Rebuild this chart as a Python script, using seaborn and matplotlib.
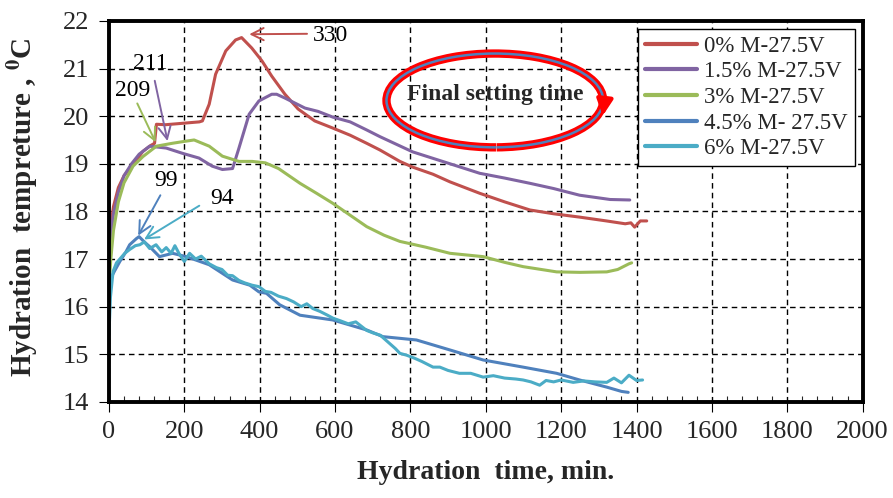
import numpy as np
import pandas as pd
import matplotlib
matplotlib.use("Agg")
import matplotlib.pyplot as plt
from matplotlib.patches import Arc
import seaborn as sns

# ---- data ----
series_names = ["0% M-27.5V", "1.5% M-27.5V", "3% M-27.5V", "4.5% M- 27.5V", "6% M-27.5V"]
series_colors = ["#C0504D", "#8064A2", "#9BBB59", "#4F81BD", "#4BACC6"]

red_t = [0, 5, 12, 25, 40, 55, 75, 90, 110, 121, 126, 150, 180, 210, 240, 248, 266, 283, 310, 336,
         352, 379, 406, 432, 467, 502, 546, 594, 640, 684, 719, 772, 806, 860, 905, 984, 1050, 1117,
         1180, 1249, 1320, 1370, 1385, 1395, 1410, 1427]
red_T = [17.2, 17.7, 18.1, 18.5, 18.75, 18.9, 19.1, 19.26, 19.38, 19.43, 19.83, 19.82, 19.84, 19.86,
         19.88, 19.9, 20.25, 20.88, 21.37, 21.6, 21.65, 21.43, 21.16, 20.84, 20.46, 20.15, 19.9, 19.75,
         19.6, 19.43, 19.29, 19.05, 18.93, 18.78, 18.62, 18.38, 18.2, 18.03, 17.95, 17.88, 17.8, 17.74,
         17.76, 17.67, 17.8, 17.8]

purple_t = [0, 5, 12, 25, 40, 60, 80, 108, 130, 152, 195, 239, 274, 301, 328, 345, 372, 398, 432, 445,
            467, 520, 555, 594, 640, 684, 719, 806, 905, 984, 1050, 1117, 1180, 1249, 1330, 1382]
purple_T = [17.0, 17.5, 17.95, 18.4, 18.75, 19.0, 19.2, 19.37, 19.35, 19.33, 19.22, 19.12, 18.95, 18.88,
            18.9, 19.33, 20.04, 20.32, 20.46, 20.46, 20.38, 20.17, 20.1, 19.98, 19.88, 19.71, 19.57,
            19.25, 19.0, 18.8, 18.7, 18.59, 18.48, 18.34, 18.25, 18.24]

green_t = [0, 5, 12, 25, 40, 64, 90, 126, 168, 200, 226, 266, 301, 345, 380, 415, 450, 507, 551, 594,
           640, 684, 730, 772, 840, 905, 993, 1050, 1099, 1188, 1250, 1321, 1350, 1365, 1380, 1387]
green_T = [16.4, 17.0, 17.6, 18.2, 18.6, 18.95, 19.15, 19.37, 19.43, 19.47, 19.5, 19.37, 19.16, 19.05,
           19.05, 19.02, 18.9, 18.59, 18.38, 18.17, 17.92, 17.68, 17.5, 17.37, 17.25, 17.12, 17.05,
           16.93, 16.84, 16.73, 16.72, 16.73, 16.78, 16.84, 16.9, 16.92]

blue_t = [0, 5, 15, 29, 45, 55, 73, 80, 95, 108, 134, 169, 205, 266, 328, 374, 398, 418, 453, 507, 594,
          684, 727, 816, 905, 993, 1099, 1188, 1249, 1321, 1360, 1378]
blue_T = [16.4, 16.6, 16.75, 16.95, 17.15, 17.3, 17.43, 17.47, 17.35, 17.26, 17.05, 17.12, 17.05, 16.88,
          16.56, 16.45, 16.31, 16.28, 16.04, 15.82, 15.72, 15.51, 15.37, 15.3, 15.09, 14.88, 14.73, 14.6,
          14.46, 14.31, 14.22, 14.2]

cyan_t = [0, 4, 11, 20, 29, 42, 55, 70, 82, 94, 108, 125, 140, 152, 165, 175, 187, 200, 214, 230, 245,
          266, 285, 300, 315, 328, 345, 360, 380, 398, 415, 430, 450, 471, 490, 510, 525, 541, 560, 580,
          594, 615, 635, 655, 684, 700, 720, 740, 760, 772, 790, 810, 830, 860, 878, 900, 930, 960, 993,
          1020, 1050, 1080, 1099, 1120, 1143, 1160, 1180, 1200, 1232, 1260, 1290, 1321, 1340, 1360,
          1380, 1400, 1416]
cyan_T = [15.4, 16.2, 16.74, 16.92, 17.0, 17.12, 17.2, 17.28, 17.3, 17.36, 17.22, 17.3, 17.15, 17.24,
          17.12, 17.28, 17.1, 16.95, 17.12, 17.0, 17.06, 16.9, 16.82, 16.78, 16.66, 16.65, 16.55, 16.5,
          16.45, 16.42, 16.32, 16.3, 16.22, 16.17, 16.1, 16.0, 16.06, 15.96, 15.9, 15.82, 15.76, 15.7,
          15.64, 15.68, 15.5, 15.45, 15.4, 15.26, 15.12, 15.02, 14.98, 14.92, 14.85, 14.73, 14.73, 14.66,
          14.6, 14.6, 14.52, 14.55, 14.5, 14.48, 14.46, 14.42, 14.35, 14.45, 14.42, 14.46, 14.41, 14.44,
          14.42, 14.41, 14.5, 14.4, 14.56, 14.45, 14.46]

# peak annotations: label, text position, arrow tail, arrow head
peak_labels = ["330", "211", "209", "99", "94"]
peak_text = [(540, 21.70), (109, 21.10), (64, 20.53), (151, 18.64), (300, 18.28)]
peak_tail = [(533, 21.73), (120, 20.80), (72, 20.32), (140, 18.39), (246, 18.15)]
peak_head = [(365, 21.72), (157, 19.42), (127, 19.40), (74, 17.44), (87, 17.38)]
peak_colors = ["#C0504D", "#8064A2", "#9BBB59", "#4F81BD", "#4BACC6"]

# ---- long-form table for seaborn ----
frames = []
for name, t, T in zip(series_names,
                      [red_t, purple_t, green_t, blue_t, cyan_t],
                      [red_T, purple_T, green_T, blue_T, cyan_T]):
    frames.append(pd.DataFrame({"time": t, "temp": T, "mix": name}))
df = pd.concat(frames, ignore_index=True)

sns.set_style("ticks")
plt.rcParams["font.family"] = ["Liberation Serif", "DejaVu Serif"]
plt.rcParams["mathtext.fontset"] = "stix"

fig = plt.figure(figsize=(8.93, 4.98), dpi=100)
ax = fig.add_axes([0.122, 0.193, 0.844, 0.765])

sns.lineplot(data=df, x="time", y="temp", hue="mix", palette=series_colors,
             estimator=None, sort=False, linewidth=2.2, ax=ax, zorder=3)

ax.set_xlim(0, 2000)
ax.set_ylim(14, 22)
ax.set_xticks(np.arange(0, 2001, 200))
ax.set_xticks(np.arange(0, 2001, 40), minor=True)
ax.set_yticks(np.arange(14, 23, 1))

for sp in ax.spines.values():
    sp.set_visible(True)
    sp.set_color("black")
    sp.set_linewidth(2.8)
    sp.set_zorder(4)

ax.tick_params(axis="both", which="major", direction="out", length=7, width=0.8,
               labelsize=19, pad=7, color="black", bottom=True, left=True)
ax.tick_params(axis="x", which="minor", direction="in", length=4, width=0.8, bottom=True)

# dashed grid on the major ticks
ax.set_axisbelow(True)
ax.grid(True, which="major", axis="both", color="#000000", linestyle="--",
        dashes=(4, 3), linewidth=1.0, alpha=1.0)

ax.set_xlabel("Hydration  time, min.", fontsize=20, fontweight="bold", labelpad=12)
ax.set_ylabel(r"Hydration  tempreture , $^{\mathbf{0}}$C", fontsize=21, fontweight="bold")
ax.yaxis.set_label_coords(-0.092, 0.51)

# legend
handles, labels = ax.get_legend_handles_labels()
leg = ax.legend(handles, labels, loc="upper right", fontsize=16.5, frameon=True, fancybox=False,
                edgecolor="black", framealpha=1, handlelength=2.3, handletextpad=0.3,
                labelspacing=0.2, borderpad=0.3, borderaxespad=0.35)
leg.get_frame().set_linewidth(1.0)
leg.set_zorder(6)
for h in leg.get_lines():
    h.set_linewidth(3)

# peak arrows
for lab, tp, tl, hd, c in zip(peak_labels, peak_text, peak_tail, peak_head, peak_colors):
    ax.annotate("", xy=hd, xytext=tl,
                arrowprops=dict(arrowstyle="->", color=c, lw=1.4, mutation_scale=22), zorder=5)
    ha = "left" if lab == "330" else "center"
    ax.text(tp[0], tp[1], lab, fontsize=17, ha=ha, va="center", color="black", zorder=5)

# "Final setting time" circled note
cx, cy, w, h = 1024, 20.33, 575, 1.97
ax.add_patch(Arc((cx, cy), w, h, theta1=-12, theta2=342, color="red", lw=6, zorder=4))
ax.add_patch(Arc((cx, cy), w, h, theta1=-12, theta2=342, color="#4F81BD", lw=1.8, zorder=5))
ax.annotate("", xy=(cx + w / 2 - 2, cy - 0.38), xytext=(cx + w / 2 + 3, cy - 0.05),
            arrowprops=dict(arrowstyle="-|>", color="red", lw=3, mutation_scale=24), zorder=5)
ax.text(cx, cy + 0.12, "Final setting time", fontsize=17, fontweight="bold",
        ha="center", va="center", zorder=6)

fig.savefig("out.png", dpi=100)
